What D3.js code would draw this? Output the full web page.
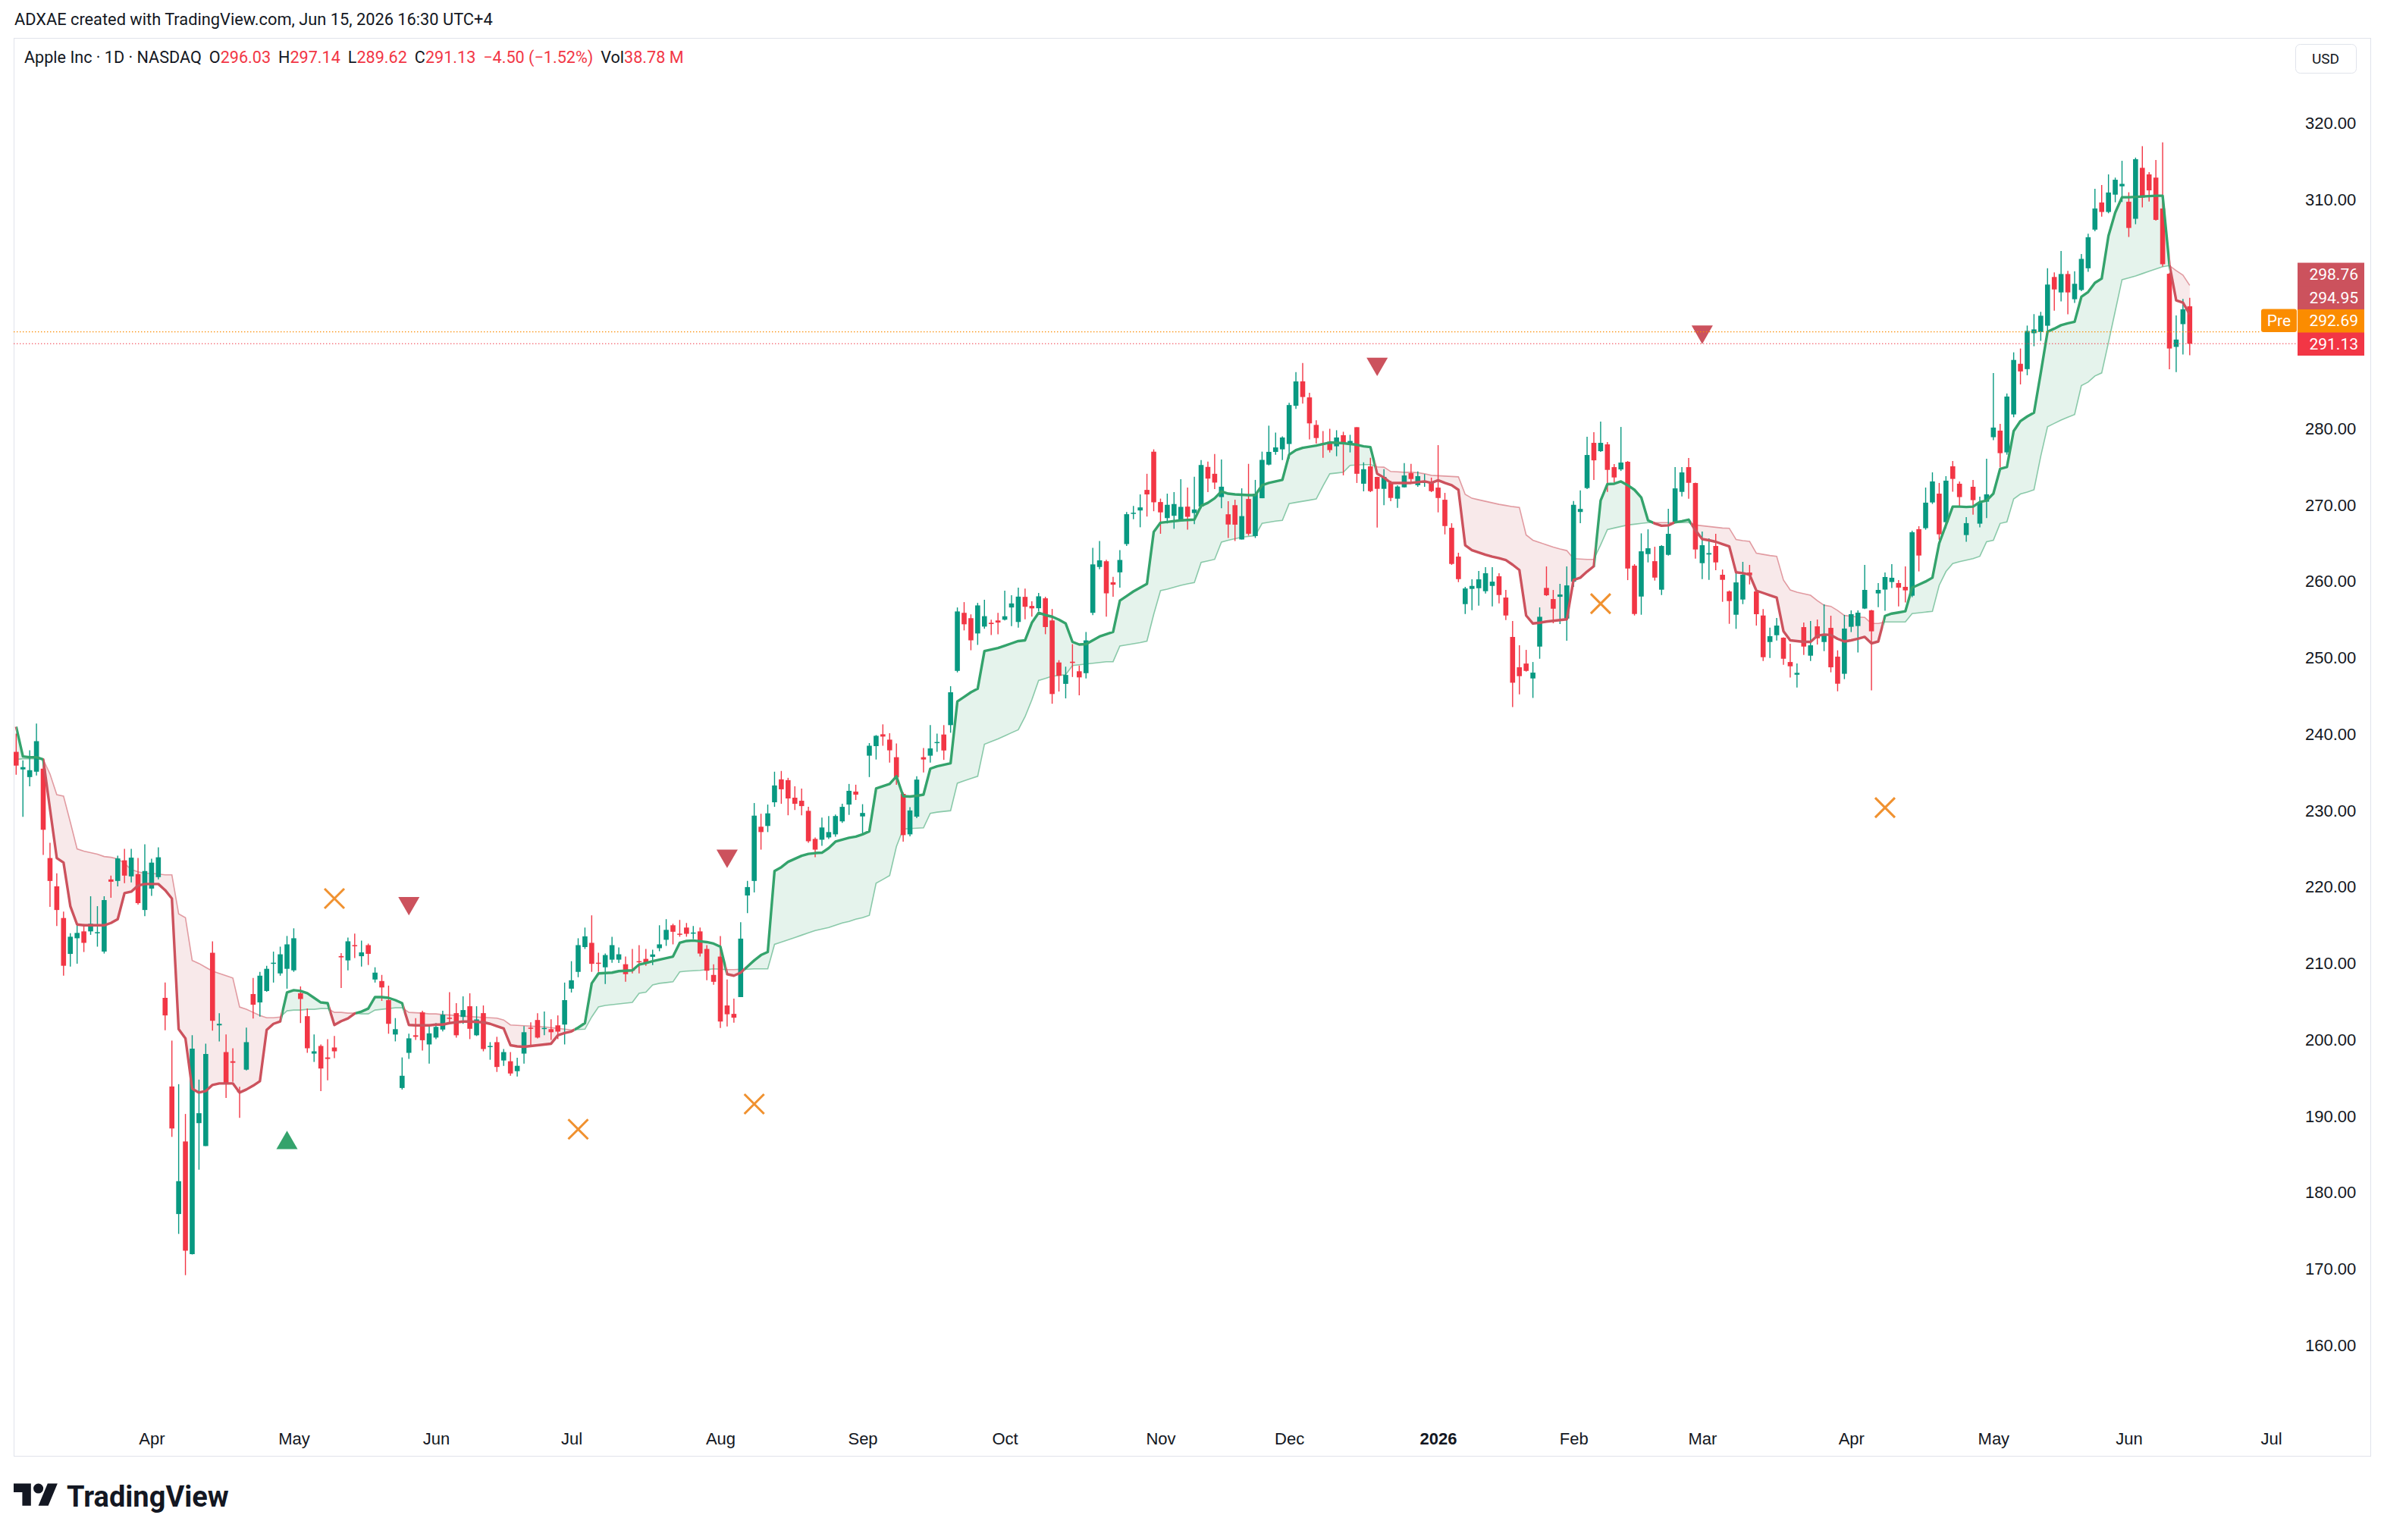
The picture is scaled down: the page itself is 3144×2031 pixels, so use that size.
<!DOCTYPE html>
<html>
<head>
<meta charset="utf-8">
<script src="https://cdn.jsdelivr.net/npm/d3@7"></script>
<style>
  body { margin: 0; background: #fff; }
  svg { display: block; font-family: "Trebuchet MS", Roboto, "Noto Sans", sans-serif; }
</style>
</head>
<body>
<svg id="chart" width="3144" height="2031"></svg>
<script>
// Apple Inc, 1D, NASDAQ — daily candles from 2025-03-04 to 2026-06-12
// one row per trading day: [open, high, low, close]
const ohlc = [
  // Mar 2025
  [237.7,240.1,234.7,235.9],[235.4,236.6,229.2,235.7],[234.4,237.9,233.2,235.3],[235.1,241.4,234.6,239.1],
  [235.5,236.2,224.2,227.5],[223.8,225.8,217.4,220.8],[220.1,221.8,214.9,217.0],[215.95,216.8,208.4,209.7],
  [211.25,213.95,209.6,213.5],[213.3,215.2,209.97,214.0],[214.2,215.15,211.5,212.7],[214.2,218.8,213.75,215.2],
  [213.99,217.5,212.2,214.1],[211.56,218.8,211.3,218.3],[221.0,221.5,218.6,220.7],[220.8,224.1,220.1,223.75],
  [223.5,225.0,220.5,221.5],[221.4,225.0,220.6,223.85],[221.7,223.8,217.7,217.9],[217.0,225.6,216.2,222.1],
  // Apr 2025
  [219.8,223.7,218.85,223.2],[221.3,225.2,221.0,223.9],[205.5,207.5,201.25,203.2],[193.9,199.9,187.3,188.4],
  [177.2,194.2,174.6,181.5],[186.7,190.3,169.2,172.4],[171.95,200.6,171.9,198.85],[189.1,194.8,183.0,190.4],
  [186.1,199.5,186.1,198.15],[211.4,212.9,201.2,202.5],[201.9,203.5,199.8,202.1],[198.4,200.7,192.4,194.3],
  [197.2,198.9,194.5,197.0],[193.3,193.85,189.8,193.2],[196.1,201.6,196.0,199.7],[206.0,208.1,202.8,204.6],
  [204.9,208.9,203.05,208.4],[206.4,209.7,206.3,209.3],[210.0,211.55,207.5,210.1],[208.7,212.2,208.4,211.2],
  [209.3,213.6,206.7,212.5],
  // May 2025
  [209.1,214.6,208.9,213.3],[206.1,207.0,202.2,205.35],[203.1,204.1,198.3,198.9],[198.2,200.7,197.1,198.5],
  [199.2,199.4,193.3,196.25],[197.7,200.1,194.7,197.5],[199.0,200.5,197.6,198.5],[210.97,211.35,206.8,210.8],
  [210.4,213.4,209.1,212.9],[212.4,213.9,210.7,212.3],[210.95,213.0,209.6,211.45],[212.4,212.6,209.8,211.26],
  [207.9,209.5,207.5,208.8],[207.7,208.5,205.1,206.86],[205.2,207.1,200.8,202.1],[200.7,202.85,199.8,201.4],
  [193.7,197.7,193.5,195.3],[198.3,200.8,197.5,200.2],[200.6,202.85,200.0,200.4],[203.6,203.8,198.6,199.95],
  [199.4,202.0,196.9,200.85],
  // Jun 2025
  [200.3,202.2,200.1,201.7],[201.35,203.8,201.1,203.3],[202.9,206.24,202.1,202.8],[203.5,204.8,200.3,200.6],
  [203.0,205.7,202.1,203.9],[204.4,206.1,200.1,201.45],[200.6,204.4,200.5,202.67],[203.5,204.5,198.5,198.8],
  [199.1,199.7,197.4,199.2],[199.7,200.4,195.8,196.45],[197.3,198.8,196.6,198.4],[197.2,198.4,195.3,195.6],
  [195.9,197.65,195.2,196.6],[198.2,201.8,196.9,201.0],[201.6,202.3,199.1,201.5],[202.6,203.5,200.2,200.3],
  [201.45,203.7,200.6,201.56],[201.4,202.7,200.0,201.0],[201.9,203.2,200.1,201.08],[202.0,207.5,199.4,205.2],
  // Jul 2025
  [206.7,210.3,206.2,207.8],[208.9,213.3,208.2,212.4],[212.15,214.7,211.9,213.55],[212.7,216.3,208.9,209.95],
  [210.1,211.4,208.9,210.0],[209.5,211.3,207.3,211.1],[210.5,213.5,210.1,212.4],[210.5,212.1,210.06,211.2],
  [209.9,210.9,207.6,208.6],[209.2,211.9,208.7,209.1],[210.3,212.4,208.7,210.16],[210.6,211.9,209.7,210.0],
  [210.87,211.8,209.8,211.18],[212.0,215.0,211.6,212.5],[213.1,215.8,212.3,214.4],[215.0,215.2,212.5,214.15],
  [213.9,215.7,213.5,213.76],[214.7,215.3,213.5,213.88],[214.0,214.9,213.2,214.05],[214.2,214.7,210.9,211.3],
  [211.9,212.4,207.8,209.05],[208.5,209.9,207.2,207.6],
  // Aug 2025
  [210.9,213.6,201.55,202.4],[204.5,207.9,201.75,203.35],[203.4,205.4,202.25,202.9],[205.6,215.4,205.6,213.25],
  [218.9,220.8,216.6,220.0],[220.8,231.0,219.3,229.35],[227.9,229.6,224.9,227.2],[228.0,230.8,227.2,229.65],
  [231.1,235.1,230.5,233.3],[234.1,235.2,230.9,232.8],[234.0,234.3,229.4,231.6],[231.7,233.2,230.1,230.9],
  [231.3,232.9,229.4,230.6],[229.98,230.5,225.8,226.0],[226.3,226.5,223.9,224.9],[226.2,229.1,225.4,227.8],
  [226.5,229.3,226.3,227.2],[226.9,229.5,226.6,229.3],[228.6,230.9,228.4,230.5],[230.8,233.5,229.45,232.6],
  [232.5,233.4,231.4,232.1],
  // Sep 2025
  [229.25,230.85,226.97,229.7],[237.2,238.85,234.4,238.5],[238.45,239.9,236.7,239.8],[240.0,241.3,238.5,239.7],
  [239.3,240.15,236.3,237.9],[237.0,238.8,233.4,234.35],[232.2,232.4,225.95,226.8],[226.9,230.45,226.65,230.03],
  [229.22,234.51,229.02,234.07],[237.0,238.2,235.0,236.7],[237.2,241.2,236.3,238.15],[238.97,240.1,237.7,238.99],
  [239.97,241.2,236.65,237.88],[241.2,246.3,240.2,245.5],[248.3,256.6,248.1,256.08],[255.9,257.3,253.6,254.4],
  [255.2,255.7,251.0,252.3],[253.2,257.2,251.7,256.87],[254.1,257.6,253.8,255.46],[254.6,255.0,253.0,254.43],
  [254.9,255.9,253.1,254.63],
  // Oct 2025
  [255.0,258.8,254.9,255.45],[256.6,258.2,254.15,257.13],[254.7,259.2,253.95,258.02],[257.99,259.07,255.05,256.69],
  [256.8,257.4,255.4,256.48],[256.5,258.5,256.1,258.06],[257.8,258.0,253.1,254.04],[254.9,256.4,244.0,245.27],
  [249.4,249.7,245.6,247.66],[246.6,248.85,244.7,247.77],[249.5,251.8,247.5,249.34],[248.25,249.0,245.1,247.45],
  [248.0,253.4,247.3,252.29],[255.9,264.4,255.6,262.24],[261.9,265.3,261.6,262.77],[262.65,262.85,255.4,258.45],
  [259.9,260.6,258.0,259.58],[261.2,264.1,259.2,262.82],[264.9,269.1,264.65,268.81],[268.99,269.9,268.15,269.0],
  [269.3,271.4,267.1,269.7],[271.99,274.1,268.5,271.4],[276.99,277.3,269.2,270.37],
  // Nov 2025
  [270.4,270.85,266.25,269.05],[268.3,271.5,267.6,270.04],[268.6,271.7,266.9,270.14],[267.9,273.4,267.9,269.77],
  [269.8,272.3,266.8,268.47],[268.96,273.7,267.5,269.43],[269.8,275.9,269.6,275.25],[275.0,275.7,271.7,273.47],
  [274.1,276.7,272.1,272.95],[271.05,275.96,269.6,272.41],[268.8,270.5,265.7,267.46],[269.99,270.7,265.3,267.44],
  [265.5,272.2,265.5,268.56],[270.8,275.4,266.0,266.25],[265.95,273.3,265.7,271.49],[270.9,277.0,270.9,275.92],
  [275.3,280.4,275.2,276.97],[276.96,279.5,276.6,277.55],[277.3,279.0,275.9,278.85],
  // Dec 2025
  [278.0,283.4,276.1,283.1],[283.0,287.4,282.6,286.19],[286.2,288.6,283.3,284.15],[284.1,284.7,278.6,280.7],
  [280.5,281.1,278.05,278.78],[278.1,279.7,276.2,277.89],[278.3,280.0,276.9,277.2],[277.7,279.8,276.4,278.85],
  [279.15,279.6,273.9,278.0],[277.9,279.2,276.9,278.4],[280.2,280.2,272.9,274.1],[272.8,275.6,271.8,274.7],
  [275.07,276.2,271.7,271.83],[273.69,273.7,267.07,272.13],[272.13,274.7,270.0,273.69],[272.9,273.2,270.5,270.94],
  [270.84,272.6,269.65,272.43],[272.33,275.5,272.3,273.88],[274.18,275.4,273.0,273.42],[272.6,274.4,272.4,273.79],
  [272.9,274.05,272.4,273.05],[273.09,273.6,271.7,271.83],
  // Jan 2026
  [272.29,277.85,269.05,270.93],[270.7,271.6,266.17,267.26],[267.03,267.63,262.17,262.3],[263.26,263.76,259.92,260.31],
  [257.04,259.29,255.75,259.09],[259.03,260.28,256.24,259.42],[259.12,261.37,256.84,260.28],[258.73,261.87,258.43,261.08],
  [259.42,261.87,256.74,259.98],[260.68,261.08,257.14,258.23],[257.9,258.89,254.95,255.55],[252.74,254.82,243.57,246.75],
  [248.77,251.65,245.23,247.61],[249.26,251.05,248.2,248.3],[247.31,249.46,244.76,248.07],[251.48,256.61,249.89,255.38],
  [259.16,261.97,258.1,258.2],[257.7,258.89,254.53,256.44],[258.0,259.69,254.43,258.3],[255.15,261.97,252.24,259.49],
  // Feb 2026
  [259.98,270.54,259.29,270.04],[269.1,271.93,267.63,269.5],[272.23,278.94,272.1,276.56],[278.15,279.54,273.28,275.86],
  [277.06,280.93,276.96,278.15],[277.95,278.25,271.73,274.61],[274.97,275.37,272.99,273.62],[274.67,280.23,274.47,275.57],
  [275.67,275.77,260.18,261.7],[262.07,262.27,255.55,255.75],[258.03,266.3,255.65,263.95],[263.59,266.83,262.5,264.35],
  [262.66,264.55,260.12,260.51],[258.93,264.75,258.23,264.65],[263.49,269.51,263.4,266.24],[267.79,274.97,267.69,272.19],
  [271.73,274.97,271.13,274.28],[274.97,276.16,270.84,272.92],[272.89,272.95,263.0,264.19],
  // Mar 2026
  [262.4,266.53,260.32,264.75],[263.53,265.64,260.22,263.72],[264.65,266.24,261.47,262.5],[260.88,261.57,257.34,260.22],
  [258.7,258.83,254.46,257.44],[255.65,261.17,253.8,259.88],[257.64,262.57,257.04,260.88],[261.17,262.17,259.62,260.81],
  [258.7,258.75,254.23,255.72],[255.55,256.38,249.6,250.09],[252.08,253.96,249.99,252.84],[252.97,255.22,252.28,254.23],
  [252.64,252.7,249.1,249.89],[249.46,251.85,247.44,248.9],[247.8,249.27,246.12,248.04],[254.03,254.62,250.39,251.48],
  [250.29,254.82,249.6,251.65],[254.13,255.02,251.75,252.57],[252.08,257.01,250.89,252.97],[253.93,255.52,248.11,248.77],
  [250.16,250.99,245.63,246.62],[247.92,255.63,247.22,253.84],
  // Apr 2026
  [254.07,256.22,253.38,255.72],[254.17,256.22,250.7,255.92],[256.46,262.18,256.4,258.9],[256.22,256.3,245.74,253.48],
  [258.44,259.8,256.65,258.9],[258.94,261.19,256.16,260.59],[259.93,262.28,259.14,260.49],[259.8,260.2,256.75,259.2],
  [259.3,261.98,257.25,258.84],[258.14,266.65,257.95,266.45],[266.85,267.24,261.32,263.4],[266.98,272.3,266.78,270.32],
  [270.35,274.29,270.15,273.1],[271.5,272.9,265.46,266.18],[267.77,273.79,266.98,273.2],[275.08,275.78,271.74,273.43],
  [272.8,273.1,269.76,271.05],[266.08,268.43,265.19,267.64],[272.4,273.3,268.76,270.65],[267.57,271.11,267.08,270.32],
  [270.45,276.08,268.3,271.41],
  // May 2026
  [278.89,287.29,278.49,280.15],[279.75,280.64,274.92,276.8],[276.9,284.61,276.6,284.21],[281.87,290.0,281.5,289.0],
  [288.5,290.5,285.8,287.5],[287.8,293.5,287.0,292.8],[292.5,295.0,290.8,293.0],[292.66,295.3,291.5,294.79],
  [293.48,301.0,292.77,298.87],[299.86,300.46,295.46,298.23],[297.84,303.26,296.67,300.25],[300.25,300.67,294.97,297.84],
  [296.95,300.6,296.46,298.97],[298.16,302.87,298.0,302.23],[301.0,305.53,300.53,305.07],[306.06,311.4,305.85,308.83],
  [309.61,311.91,307.76,308.37],[308.37,313.29,308.2,310.92],[310.64,312.87,309.64,312.59],[311.73,315.07,309.68,312.05],
  // Jun 2026
  [309.71,310.95,305.1,306.28],[307.48,315.49,306.77,315.28],[314.15,316.98,308.97,310.25],[313.29,313.58,309.75,311.2],
  [312.87,315.17,307.23,307.34],[308.83,317.48,301.24,301.53],[300.28,300.4,287.77,290.5],[290.71,294.83,287.42,291.67],
  [293.69,296.99,289.72,295.63],[296.03,297.14,289.62,291.13]
];

// trend indicator: fast (thick) line, one value per candle
const fastLine = [
  241.0,237.1,237.0,237.0,236.7,230.2,223.8,223.2,217.5,215.1,
  215.0,215.0,215.0,215.0,215.3,215.8,219.2,219.4,220.2,220.4,
  220.4,220.4,219.6,218.5,201.4,200.2,193.6,193.1,193.3,194.1,
  194.3,194.3,194.3,193.1,193.5,194.0,194.6,201.3,202.1,202.4,
  206.2,206.5,206.4,206.1,205.5,204.9,204.8,201.95,202.45,202.8,
  203.45,203.7,204.1,205.6,205.6,205.5,205.2,204.8,201.95,201.9,
  201.9,201.9,202.0,202.0,202.2,202.3,202.4,202.4,202.35,202.3,
  202.1,201.8,201.5,199.3,199.15,199.1,199.2,199.3,199.4,199.5,
  200.6,200.9,201.1,201.6,202.2,207.4,208.7,208.75,208.8,209.0,
  209.05,209.1,209.86,210.06,210.3,210.5,210.7,210.9,212.7,212.95,
  213.0,212.9,212.8,212.6,212.2,208.6,208.4,208.8,209.6,210.4,
  211.1,211.5,222.1,222.6,223.3,223.7,224.1,224.35,224.45,224.5,
  225.1,225.95,226.2,226.45,226.6,226.9,227.3,232.9,233.2,233.5,
  234.5,231.9,231.85,231.95,232.1,235.5,235.8,236.0,236.2,244.3,
  244.9,245.5,245.96,250.9,251.1,251.3,251.6,251.9,252.2,252.3,
  254.6,255.9,255.6,255.4,255.0,254.5,252.1,251.75,251.8,252.3,
  252.8,253.1,253.4,257.5,258.1,258.7,259.2,259.7,266.5,267.7,
  267.8,267.9,268.0,268.05,268.1,269.9,270.3,270.9,271.8,271.5,
  271.4,271.35,271.3,271.3,272.6,272.9,273.1,273.3,276.6,277.2,
  277.5,277.65,277.8,278.0,278.2,278.15,278.1,278.0,277.9,277.7,
  277.6,274.1,273.6,272.9,272.9,272.9,272.9,273.0,273.1,272.9,
  273.25,272.9,272.6,272.0,264.75,264.1,263.8,263.5,263.25,263.05,
  262.8,262.2,261.5,255.55,254.5,254.6,254.75,254.85,254.95,255.05,
  260.2,260.5,261.3,262.0,270.6,272.75,272.8,273.1,272.6,272.0,
  271.0,268.0,267.6,267.3,267.35,267.75,267.9,268.1,266.7,265.55,
  265.4,265.2,264.9,264.6,261.2,261.1,260.9,258.8,258.5,258.2,
  257.9,253.5,252.3,252.2,252.1,252.1,252.9,253.05,253.0,252.5,
  252.15,252.3,252.5,252.75,251.9,252.15,255.5,255.8,255.95,256.1,
  259.2,259.6,260.0,260.5,265.0,267.4,269.8,269.8,269.75,269.8,
  270.4,270.6,271.5,274.75,274.98,279.7,281.0,281.6,282.1,287.3,
  292.7,293.1,293.55,293.8,294.0,297.27,297.9,299.1,299.65,305.25,
  308.3,310.3,310.3,310.35,310.4,310.45,310.5,310.5,301.5,296.8,
  296.5,294.95
];

// trend indicator: slow (thin) line, one value per candle
const slowLine = [
  236.7,236.8,236.8,236.8,236.7,234.8,232.1,231.9,228.5,225.0,
  224.7,224.5,224.3,224.0,223.9,223.7,223.1,222.3,222.0,221.8,
  221.8,221.7,221.6,221.6,216.5,216.0,210.4,210.0,209.5,209.0,
  208.7,208.4,208.1,204.3,204.0,203.6,203.2,202.9,202.9,203.0,
  203.8,203.9,203.9,204.0,204.0,204.1,204.1,203.6,203.6,203.5,
  203.5,203.4,203.4,203.9,204.0,204.1,204.2,204.2,203.6,203.55,
  203.5,203.4,203.4,203.3,203.25,203.2,203.1,203.05,203.0,202.95,
  202.9,202.85,202.6,201.95,201.9,201.85,201.8,201.75,201.7,201.6,
  201.5,201.4,201.3,201.35,201.4,203.0,204.3,204.5,204.6,204.7,
  204.8,204.9,206.1,206.25,207.2,207.4,207.5,207.6,208.9,209.0,
  209.05,209.1,209.2,209.3,209.25,209.2,209.2,209.25,209.25,209.3,
  209.3,209.3,212.5,212.8,213.1,213.4,213.7,214.0,214.3,214.5,
  214.7,215.0,215.3,215.5,215.8,216.0,216.3,220.5,221.0,221.5,
  225.3,227.6,227.65,227.7,227.75,229.65,229.8,229.9,230.0,233.6,
  233.9,234.2,234.5,238.7,239.05,239.4,239.8,240.2,240.6,242.3,
  244.5,247.05,247.3,247.6,247.7,247.8,249.0,249.1,249.2,249.3,
  249.4,249.5,249.5,251.55,251.7,251.85,252.0,252.2,255.7,258.8,
  259.0,259.25,259.5,259.7,259.85,262.5,262.7,262.9,265.15,265.4,
  265.6,265.8,265.9,266.0,267.6,267.75,267.9,268.0,270.2,270.35,
  270.5,270.65,270.8,272.5,274.1,274.2,274.3,275.2,275.25,275.3,
  275.3,275.0,274.97,274.4,274.35,274.3,274.3,274.25,274.1,273.9,
  273.85,273.8,273.75,273.7,271.4,270.9,270.7,270.5,270.3,270.1,
  269.95,269.8,269.7,266.1,265.4,265.1,264.8,264.5,264.25,264.05,
  263.0,262.95,262.9,262.9,264.8,266.8,267.0,267.2,267.4,267.5,
  267.6,267.7,267.7,267.7,267.7,267.7,267.7,267.7,267.4,267.3,
  267.2,267.1,267.0,266.97,265.5,265.35,265.25,263.7,263.55,263.4,
  263.3,260.2,258.9,258.6,258.4,258.2,257.5,256.9,256.75,256.2,
  255.56,255.45,255.35,255.3,254.5,254.5,254.7,254.7,254.7,254.7,
  255.8,255.9,256.0,256.1,259.5,261.3,262.35,262.6,262.8,263.0,
  263.3,265.2,265.4,267.6,267.8,270.8,271.45,271.7,272.0,276.4,
  280.26,280.7,281.14,281.5,281.85,285.65,286.1,286.9,287.3,291.3,
  295.4,299.5,299.75,300.0,300.3,300.6,300.9,301.2,301.35,300.7,
  300.1,298.76
];

// signal markers: [candle index, price level]
const buySignals = [[40, 186.5]];
const sellSignals = [[58, 217.9], [105, 224.1], [201, 288.5], [249, 292.7]];
const crossMarks = [[47, 218.5], [83, 188.3], [109, 191.6], [234, 257.1], [276, 230.4]];

// time axis: [candle index of first trading day, label]
const monthTicks = [[20,"Apr"],[41,"May"],[62,"Jun"],[82,"Jul"],[104,"Aug"],[125,"Sep"],[146,"Oct"],
  [169,"Nov"],[188,"Dec"],[210,"2026"],[230,"Feb"],[249,"Mar"],[271,"Apr"],[292,"May"],[312,"Jun"],[333,"Jul"]];
const priceTicks = [160,170,180,190,200,210,220,230,240,250,260,270,280,290,300,310,320];

// last values shown on the price scale
const preMarket = 292.69;
const lastClose = 291.13;
const legendItems = [
  ["Apple Inc · 1D · NASDAQ", null],
  ["O", "296.03"], ["H", "297.14"], ["L", "289.62"], ["C", "291.13"],
  ["", "−4.50 (−1.52%)"], ["Vol", "38.78 M"]
];

const UP = "#089981", DOWN = "#f23645";
const TGREEN = "#34a36c", TRED = "#cc525d";
const TEXT = "#131722";

const svg = d3.select("#chart");

const x = d3.scaleLinear().domain([0, 321]).range([21.3, 2887.8]);
const y = d3.scaleLinear().domain([160, 320]).range([1774.4, 162.4]);

// header caption
svg.append("text")
  .attr("x", 19).attr("y", 33)
  .attr("font-size", 21.8).attr("fill", TEXT)
  .text("ADXAE created with TradingView.com, Jun 15, 2026 16:30 UTC+4");

// chart frame
svg.append("rect")
  .attr("x", 18.5).attr("y", 50.5)
  .attr("width", 3108).attr("height", 1870)
  .attr("fill", "#fff").attr("stroke", "#e0e3eb").attr("stroke-width", 1);

// legend line
const legend = svg.append("text")
  .attr("x", 32).attr("y", 83)
  .attr("font-size", 21.6).attr("fill", TEXT);
legendItems.forEach((d, k) => {
  const gap = k === 0 ? 0 : 10;
  if (d[0]) legend.append("tspan").attr("dx", gap).attr("fill", TEXT).text(d[0]);
  if (d[1]) legend.append("tspan").attr("dx", d[0] ? 0 : gap).attr("fill", DOWN).text(d[1]);
});

// USD box
svg.append("rect")
  .attr("x", 3027.5).attr("y", 58.5).attr("width", 80).attr("height", 38).attr("rx", 6)
  .attr("fill", "#fff").attr("stroke", "#e0e3eb");
svg.append("text")
  .attr("x", 3067).attr("y", 84).attr("text-anchor", "middle")
  .attr("font-size", 19).attr("fill", TEXT).text("USD");

// ---- price scale labels, stacked so they do not overlap ----
const labelH = 30.5;
const scaleLabels = [
  { v: slowLine[slowLine.length - 1], bg: TRED },
  { v: fastLine[fastLine.length - 1], bg: TRED },
  { v: preMarket, bg: "#fb8c00", tag: "Pre" },
  { v: lastClose, bg: DOWN }
];
scaleLabels.sort((a, b) => a.v - b.v);
let limit = Infinity;
scaleLabels.forEach(d => {
  d.cy = Math.min(y(d.v), limit - labelH / 2);
  limit = d.cy - labelH / 2;
});
const labelTop = d3.min(scaleLabels, d => d.cy) - labelH / 2;
const labelBottom = d3.max(scaleLabels, d => d.cy) + labelH / 2;

// price axis (tick labels covered by the value labels are hidden, as on the original)
const yAxis = svg.append("g")
  .attr("transform", "translate(3034,0)")
  .call(d3.axisRight(y).tickValues(priceTicks).tickFormat(d3.format(".2f")).tickSize(0).tickPadding(6));
yAxis.select(".domain").remove();
yAxis.selectAll("text").attr("font-size", 22).attr("fill", TEXT).attr("font-family", null);
yAxis.selectAll(".tick").filter(p => y(p) > labelTop - 8 && y(p) < labelBottom + 8).remove();

// time axis
const tickLabel = new Map(monthTicks);
const xAxis = svg.append("g")
  .attr("transform", "translate(0,1880)")
  .call(d3.axisBottom(x).tickValues(monthTicks.map(d => d[0])).tickFormat(i => tickLabel.get(i)).tickSize(0).tickPadding(9));
xAxis.select(".domain").remove();
xAxis.selectAll("text")
  .attr("font-size", 22).attr("fill", TEXT).attr("font-family", null)
  .attr("font-weight", i => tickLabel.get(i) === "2026" ? "bold" : null);

// ---- indicator band ----
const idx = fastLine.map((d, i) => i);

// x ranges where the fast line is above the slow line
const greenRanges = [];
let start = fastLine[0] >= slowLine[0] ? x(0) : null;
for (let i = 0; i < idx.length - 1; i++) {
  const d0 = fastLine[i] - slowLine[i], d1 = fastLine[i + 1] - slowLine[i + 1];
  if ((d0 >= 0) !== (d1 >= 0)) {
    const cx = x(i + d0 / (d0 - d1));
    if (d0 >= 0) { greenRanges.push([start, cx]); start = null; }
    else start = cx;
  }
}
if (start !== null) greenRanges.push([start, x(idx.length - 1)]);

const defs = svg.append("defs");
const clipUp = defs.append("clipPath").attr("id", "clip-up");
greenRanges.forEach(r => clipUp.append("rect").attr("x", r[0]).attr("y", 0).attr("width", r[1] - r[0]).attr("height", 2031));
const clipDown = defs.append("clipPath").attr("id", "clip-down");
const redRanges = [];
let prev = 0;
greenRanges.forEach(r => { if (r[0] > prev) redRanges.push([prev, r[0]]); prev = r[1]; });
redRanges.push([prev, 3144]);
redRanges.forEach(r => clipDown.append("rect").attr("x", r[0]).attr("y", 0).attr("width", r[1] - r[0]).attr("height", 2031));

const band = d3.area().x(i => x(i)).y0(i => y(slowLine[i])).y1(i => y(fastLine[i]));
const fastPath = d3.line().x(i => x(i)).y(i => y(fastLine[i]));
const slowPath = d3.line().x(i => x(i)).y(i => y(slowLine[i]));

[["clip-up", TGREEN], ["clip-down", TRED]].forEach(([clip, col]) => {
  const g = svg.append("g").attr("clip-path", `url(#${clip})`);
  g.append("path").attr("d", band(idx)).attr("fill", col).attr("fill-opacity", 0.13);
  g.append("path").attr("d", slowPath(idx)).attr("fill", "none")
    .attr("stroke", col).attr("stroke-opacity", 0.55).attr("stroke-width", 1.6);
});

// ---- candles ----
const bodyW = 6.6;
const candles = svg.append("g");
ohlc.forEach((d, i) => {
  const [o, h, l, c] = d;
  const col = c >= o ? UP : DOWN;
  candles.append("line")
    .attr("x1", x(i)).attr("x2", x(i))
    .attr("y1", y(h)).attr("y2", y(l))
    .attr("stroke", col).attr("stroke-width", 1.4);
  const top = y(Math.max(o, c)), bot = y(Math.min(o, c));
  candles.append("rect")
    .attr("x", x(i) - bodyW / 2).attr("y", top)
    .attr("width", bodyW).attr("height", Math.max(1.5, bot - top))
    .attr("fill", col);
});

// fast line on top of the candles
[["clip-up", TGREEN], ["clip-down", TRED]].forEach(([clip, col]) => {
  svg.append("path").attr("clip-path", `url(#${clip})`)
    .attr("d", fastPath(idx)).attr("fill", "none")
    .attr("stroke", col).attr("stroke-width", 3.4)
    .attr("stroke-linejoin", "round");
});

// ---- signal markers ----
const tri = d3.symbol().type(d3.symbolTriangle).size(340);
svg.selectAll(".buy").data(buySignals).enter().append("path")
  .attr("d", tri).attr("fill", TGREEN)
  .attr("transform", d => `translate(${x(d[0])},${y(d[1])})`);
svg.selectAll(".sell").data(sellSignals).enter().append("path")
  .attr("d", tri).attr("fill", TRED)
  .attr("transform", d => `translate(${x(d[0])},${y(d[1])}) rotate(180)`);
svg.selectAll(".cross").data(crossMarks).enter().append("path")
  .attr("d", "M-13,-13L13,13M-13,13L13,-13")
  .attr("stroke", "#f0912f").attr("stroke-width", 3).attr("fill", "none")
  .attr("transform", d => `translate(${x(d[0])},${y(d[1])})`);

// ---- price lines ----
svg.append("line")
  .attr("x1", 18).attr("x2", 2982).attr("y1", y(preMarket)).attr("y2", y(preMarket))
  .attr("stroke", "#fb8c00").attr("stroke-width", 1.2).attr("stroke-dasharray", "1.4 2.6");
svg.append("line")
  .attr("x1", 18).attr("x2", 3030).attr("y1", y(lastClose)).attr("y2", y(lastClose))
  .attr("stroke", DOWN).attr("stroke-width", 1.2).attr("stroke-dasharray", "1.4 2.6");

scaleLabels.forEach(d => {
  svg.append("rect")
    .attr("x", 3030).attr("y", d.cy - labelH / 2).attr("width", 88).attr("height", labelH + 0.5)
    .attr("fill", d.bg);
  svg.append("text")
    .attr("x", 3110).attr("y", d.cy).attr("dy", "0.36em").attr("text-anchor", "end")
    .attr("font-size", 21).attr("fill", "#fff").text(d.v.toFixed(2));
  if (d.tag) {
    svg.append("rect")
      .attr("x", 2982).attr("y", d.cy - labelH / 2).attr("width", 47).attr("height", labelH)
      .attr("rx", 3).attr("fill", d.bg);
    svg.append("text")
      .attr("x", 3005.5).attr("y", d.cy).attr("dy", "0.36em").attr("text-anchor", "middle")
      .attr("font-size", 21).attr("fill", "#fff").text(d.tag);
  }
});

// ---- TradingView logo ----
const logo = svg.append("g").attr("transform", "translate(18,1950) scale(1.63)").attr("fill", TEXT);
logo.append("path").attr("d", "M14 22H7V11H0V4h14v18zM28 22h-8l7.5-18h8L28 22z");
logo.append("circle").attr("cx", 20).attr("cy", 8).attr("r", 4);
svg.append("text")
  .attr("x", 88).attr("y", 1987)
  .attr("font-size", 38).attr("font-weight", "bold").attr("fill", TEXT)
  .text("TradingView");
</script>
</body>
</html>
